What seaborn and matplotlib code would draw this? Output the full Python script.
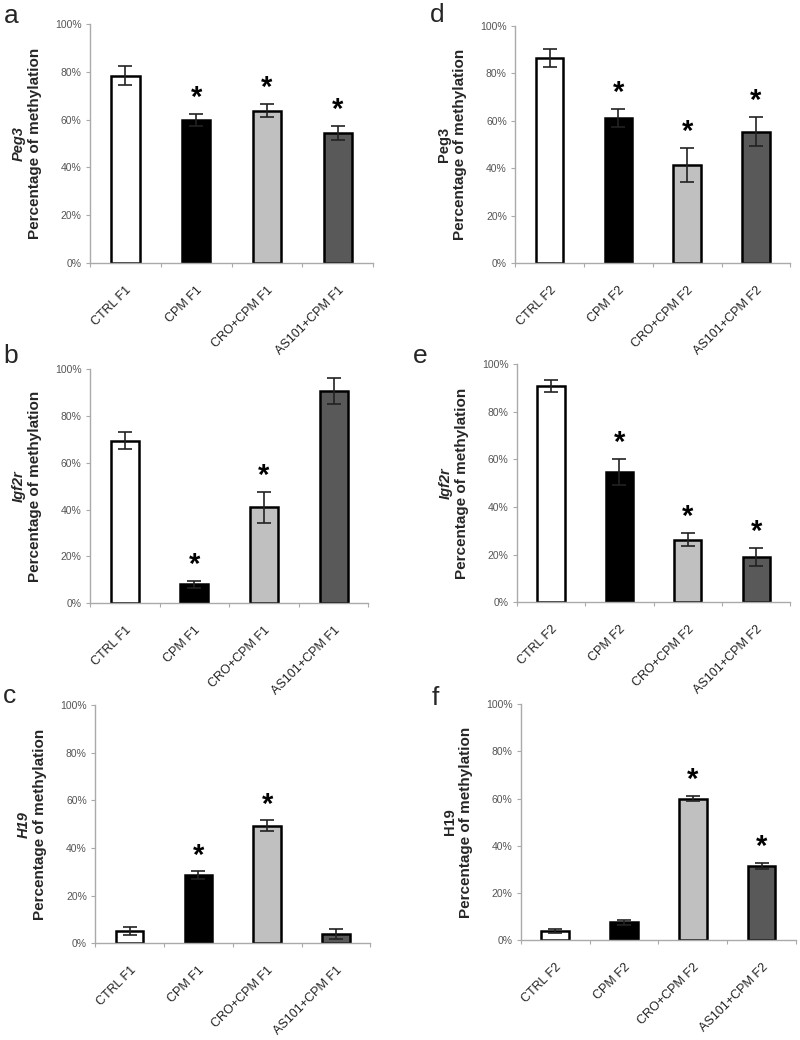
import matplotlib
matplotlib.use("Agg")
import matplotlib.pyplot as plt
from matplotlib.ticker import PercentFormatter, FixedLocator
import seaborn as sns
import pandas as pd

sns.set_style("white")
plt.rcParams["font.family"] = ["Liberation Sans", "DejaVu Sans"]

# groups on the x axis
groups_f1 = ["CTRL F1", "CPM F1", "CRO+CPM F1", "AS101+CPM F1"]
groups_f2 = ["CTRL F2", "CPM F2", "CRO+CPM F2", "AS101+CPM F2"]

# mean % methylation and error
peg3_f1 = [78.3, 59.8, 63.7, 54.4]
peg3_f1_err = [4.0, 2.5, 2.8, 2.8]
peg3_f2 = [86.4, 61.4, 41.4, 55.5]
peg3_f2_err = [3.8, 3.8, 7.2, 6.2]
igf2r_f1 = [69.5, 8.0, 41.0, 90.8]
igf2r_f1_err = [3.8, 1.7, 6.7, 5.6]
igf2r_f2 = [90.6, 54.7, 26.2, 19.0]
igf2r_f2_err = [2.5, 5.6, 2.8, 3.9]
h19_f1 = [5.1, 28.6, 49.3, 3.8]
h19_f1_err = [1.8, 1.6, 2.3, 2.0]
h19_f2 = [4.0, 7.5, 60.0, 31.5]
h19_f2_err = [0.8, 1.2, 1.2, 1.3]

# significance asterisks
stars_peg3_f1 = [False, True, True, True]
stars_peg3_f2 = [False, True, True, True]
stars_igf2r_f1 = [False, True, True, False]
stars_igf2r_f2 = [False, True, True, True]
stars_h19_f1 = [False, True, True, False]
stars_h19_f2 = [False, False, True, True]

bar_colors = ["#ffffff", "#000000", "#c0c0c0", "#595959"]

W, H = 800, 1040
fig = plt.figure(figsize=(8, 10.4), dpi=100)

panels = [
    # letter, letter pos (px), rect, groups, values, errors, stars, gene, italic
    ("a", (4, 23), [0.1125, 0.747, 0.354, 0.230], groups_f1, peg3_f1, peg3_f1_err, stars_peg3_f1, "Peg3", True),
    ("b", (3, 363), [0.1125, 0.420, 0.348, 0.225], groups_f1, igf2r_f1, igf2r_f1_err, stars_igf2r_f1, "Igf2r", True),
    ("c", (3, 703), [0.119, 0.093, 0.344, 0.229], groups_f1, h19_f1, h19_f1_err, stars_h19_f1, "H19", True),
    ("d", (430, 22), [0.644, 0.747, 0.344, 0.228], groups_f2, peg3_f2, peg3_f2_err, stars_peg3_f2, "Peg3", False),
    ("e", (413, 363), [0.646, 0.421, 0.342, 0.229], groups_f2, igf2r_f2, igf2r_f2_err, stars_igf2r_f2, "Igf2r", True),
    ("f", (432, 705), [0.651, 0.096, 0.344, 0.227], groups_f2, h19_f2, h19_f2_err, stars_h19_f2, "H19", False),
]

for letter, lpos, rect, groups, vals, errs, stars, gene, italic in panels:
    ax = fig.add_axes(rect)
    df = pd.DataFrame({"group": groups, "value": vals})
    sns.barplot(data=df, x="group", y="value", hue="group", palette=bar_colors,
                legend=False, width=0.4, edgecolor="black", linewidth=1.8, ax=ax)
    ax.errorbar(range(len(groups)), vals, yerr=errs, fmt="none", ecolor="#222222",
                elinewidth=1.2, capsize=5, capthick=1.2)
    for i, s in enumerate(stars):
        if s:
            ax.text(i, vals[i] + errs[i] + 0.8, "*", ha="center", va="bottom",
                    fontsize=21, fontweight="bold", color="black")

    ax.set_ylim(0, 100)
    ax.set_xlim(-0.5, 3.5)
    ax.set_yticks([0, 20, 40, 60, 80, 100])
    ax.yaxis.set_major_formatter(PercentFormatter(100, decimals=0))
    ax.tick_params(axis="y", labelsize=7.5, labelcolor="#555555", length=3,
                   color="#aaaaaa", width=0.8, left=True, pad=3)
    ax.set_xticks(range(len(groups)))
    ax.set_xticklabels(groups, rotation=45, ha="right", rotation_mode="anchor",
                       fontsize=9, color="#222222")
    ax.tick_params(axis="x", length=0, pad=15)
    ax.xaxis.set_minor_locator(FixedLocator([-0.5, 0.5, 1.5, 2.5, 3.5]))
    ax.tick_params(axis="x", which="minor", length=3, color="#aaaaaa", width=0.8,
                   bottom=True)
    for side in ["top", "right"]:
        ax.spines[side].set_visible(False)
    for side in ["left", "bottom"]:
        ax.spines[side].set_color("#aaaaaa")
        ax.spines[side].set_linewidth(1.0)

    # two-line y title, gene name on top
    width_px = rect[2] * W
    style = "italic" if italic else "normal"
    ax.set_xlabel("")
    ax.set_ylabel("")
    ax.text(-71 / width_px, 0.5, gene, transform=ax.transAxes, rotation=90,
            ha="center", va="center", fontsize=10.5, fontweight="bold", fontstyle=style)
    ax.text(-55 / width_px, 0.5, "Percentage of methylation", transform=ax.transAxes,
            rotation=90, ha="center", va="center", fontsize=11, fontweight="bold")

    fig.text(lpos[0] / W, 1 - lpos[1] / H, letter, fontsize=19,
             ha="left", va="baseline")

fig.savefig("out.png", dpi=100, facecolor="white")
